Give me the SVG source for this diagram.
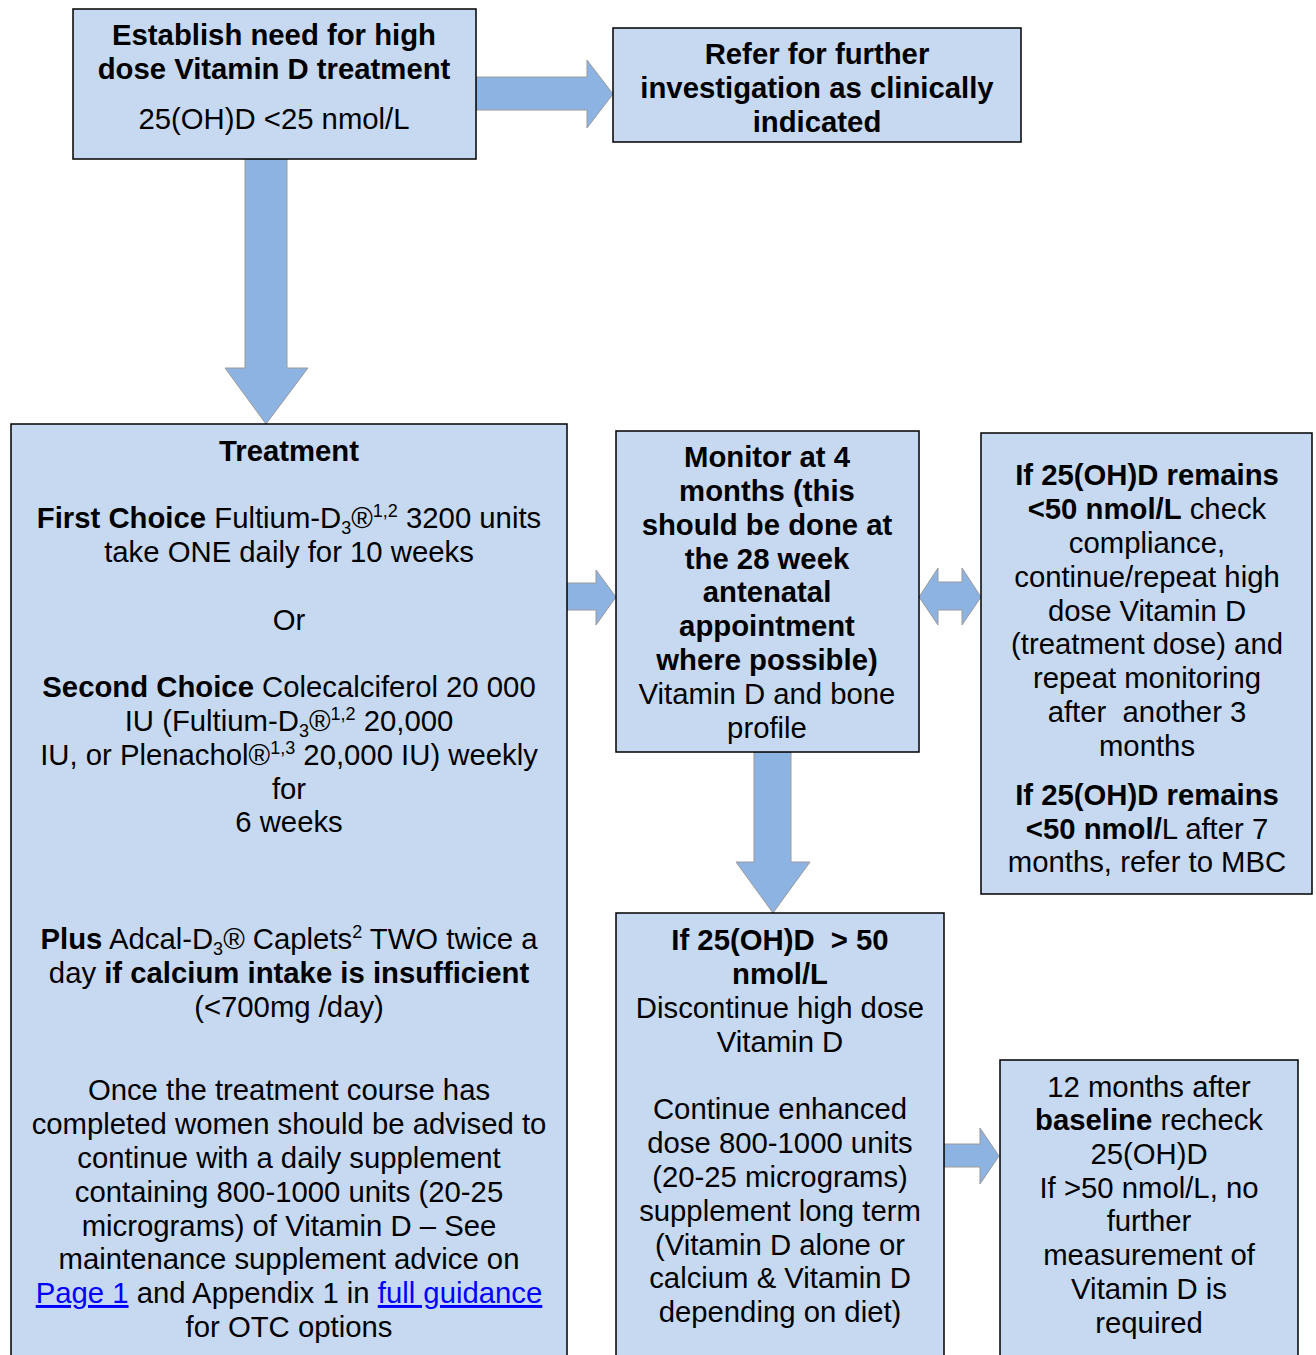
<svg xmlns="http://www.w3.org/2000/svg" width="1316" height="1355" viewBox="0 0 1316 1355">
<style>
.box{fill:#C6D9F1;stroke:#000;stroke-width:1.5}
.arr{fill:#8DB3E2;stroke:#9a9a9a;stroke-width:1}
text{font-family:"Liberation Sans",Arial,sans-serif;font-size:29.3px;fill:#000;text-anchor:middle}
.b{font-weight:bold}
.s{font-size:18px}
.lnk{fill:#0000FF;text-decoration:underline}
</style>
<rect width="1316" height="1355" fill="#fff"/>
<g id="connectors">
<polygon class="arr" points="476,77 587,77 587,60 613,94 587,128 587,110 476,110"/>
<polygon class="arr" points="245,159 287,159 287,368 308,368 266,424 225,368 245,368"/>
<polygon class="arr" points="567,583 596,583 596,570 616,597 596,625 596,610 567,610"/>
<polygon class="arr" points="919,597 938,568 938,582 962,582 962,568 981,597 962,625 962,610 938,610 938,625"/>
<polygon class="arr" points="754,752 791,752 791,862 810,862 773,913 736,862 754,862"/>
<polygon class="arr" points="944,1144 980,1144 980,1128 999,1156 980,1184 980,1167 944,1167"/>
</g>
<g id="establish">
<rect class="box" x="73" y="9" width="403" height="150"/>
<text x="274" y="45" class="b">Establish need for high</text>
<text x="274" y="79" class="b">dose Vitamin D treatment</text>
<text x="274" y="129">25(OH)D &lt;25 nmol/L</text>
</g>
<g id="refer">
<rect class="box" x="613" y="28" width="408" height="114"/>
<text x="817" y="64" class="b">Refer for further</text>
<text x="817" y="98" class="b">investigation as clinically</text>
<text x="817" y="132" class="b">indicated</text>
</g>
<g id="treatment">
<rect class="box" x="11" y="424" width="556" height="940"/>
<text x="289" y="461" class="b">Treatment</text>
<text x="289" y="528"><tspan class="b">First Choice</tspan> Fultium-D<tspan class="s" dy="6">3</tspan><tspan dy="-6">®</tspan><tspan class="s" dy="-11">1,2</tspan><tspan dy="11"> 3200 units</tspan></text>
<text x="289" y="562">take ONE daily for 10 weeks</text>
<text x="289" y="630">Or</text>
<text x="289" y="697"><tspan class="b">Second Choice</tspan> Colecalciferol 20 000</text>
<text x="289" y="731">IU (Fultium-D<tspan class="s" dy="6">3</tspan><tspan dy="-6">®</tspan><tspan class="s" dy="-11">1,2</tspan><tspan dy="11"> 20,000</tspan></text>
<text x="289" y="765">IU, or Plenachol®<tspan class="s" dy="-11">1,3</tspan><tspan dy="11"> 20,000 IU) weekly</tspan></text>
<text x="289" y="799">for</text>
<text x="289" y="832">6 weeks</text>
<text x="289" y="949"><tspan class="b">Plus</tspan> Adcal-D<tspan class="s" dy="6">3</tspan><tspan dy="-6">® Caplets</tspan><tspan class="s" dy="-11">2</tspan><tspan dy="11"> TWO twice a</tspan></text>
<text x="289" y="983">day <tspan class="b">if calcium intake is insufficient</tspan></text>
<text x="289" y="1017">(&lt;700mg /day)</text>
<text x="289" y="1100">Once the treatment course has</text>
<text x="289" y="1134">completed women should be advised to</text>
<text x="289" y="1168">continue with a daily supplement</text>
<text x="289" y="1202">containing 800-1000 units (20-25</text>
<text x="289" y="1236">micrograms) of Vitamin D – See</text>
<text x="289" y="1269">maintenance supplement advice on</text>
<text x="289" y="1303"><tspan class="lnk">Page 1</tspan> and Appendix 1 in <tspan class="lnk">full guidance</tspan></text>
<text x="289" y="1337">for OTC options</text>
</g>
<g id="monitor">
<rect class="box" x="616" y="431" width="303" height="321"/>
<text x="767" y="467" class="b">Monitor at 4</text>
<text x="767" y="501" class="b">months (this</text>
<text x="767" y="535" class="b">should be done at</text>
<text x="767" y="569" class="b">the 28 week</text>
<text x="767" y="602" class="b">antenatal</text>
<text x="767" y="636" class="b">appointment</text>
<text x="767" y="670" class="b">where possible)</text>
<text x="767" y="704">Vitamin D and bone</text>
<text x="767" y="738">profile</text>
</g>
<g id="remains">
<rect class="box" x="981" y="433" width="331" height="461"/>
<text x="1147" y="485" class="b">If 25(OH)D remains</text>
<text x="1147" y="519"><tspan class="b">&lt;50 nmol/L</tspan> check</text>
<text x="1147" y="553">compliance,</text>
<text x="1147" y="587">continue/repeat high</text>
<text x="1147" y="621">dose Vitamin D</text>
<text x="1147" y="654">(treatment dose) and</text>
<text x="1147" y="688">repeat monitoring</text>
<text x="1147" y="722">after&#160; another 3</text>
<text x="1147" y="756">months</text>
<text x="1147" y="805" class="b">If 25(OH)D remains</text>
<text x="1147" y="839"><tspan class="b">&lt;50 nmol/</tspan>L after 7</text>
<text x="1147" y="872">months, refer to MBC</text>
</g>
<g id="above50">
<rect class="box" x="616" y="913" width="328" height="450"/>
<text x="780" y="950" class="b">If 25(OH)D&#160; &gt; 50</text>
<text x="780" y="984" class="b">nmol/L</text>
<text x="780" y="1018">Discontinue high dose</text>
<text x="780" y="1052">Vitamin D</text>
<text x="780" y="1119">Continue enhanced</text>
<text x="780" y="1153">dose 800-1000 units</text>
<text x="780" y="1187">(20-25 micrograms)</text>
<text x="780" y="1221">supplement long term</text>
<text x="780" y="1255">(Vitamin D alone or</text>
<text x="780" y="1288">calcium &amp; Vitamin D</text>
<text x="780" y="1322">depending on diet)</text>
</g>
<g id="twelve">
<rect class="box" x="1000" y="1060" width="298" height="300"/>
<text x="1149" y="1097">12 months after</text>
<text x="1149" y="1130"><tspan class="b">baseline</tspan> recheck</text>
<text x="1149" y="1164">25(OH)D</text>
<text x="1149" y="1198">If &gt;50 nmol/L, no</text>
<text x="1149" y="1231">further</text>
<text x="1149" y="1265">measurement of</text>
<text x="1149" y="1299">Vitamin D is</text>
<text x="1149" y="1333">required</text>
</g>
</svg>
